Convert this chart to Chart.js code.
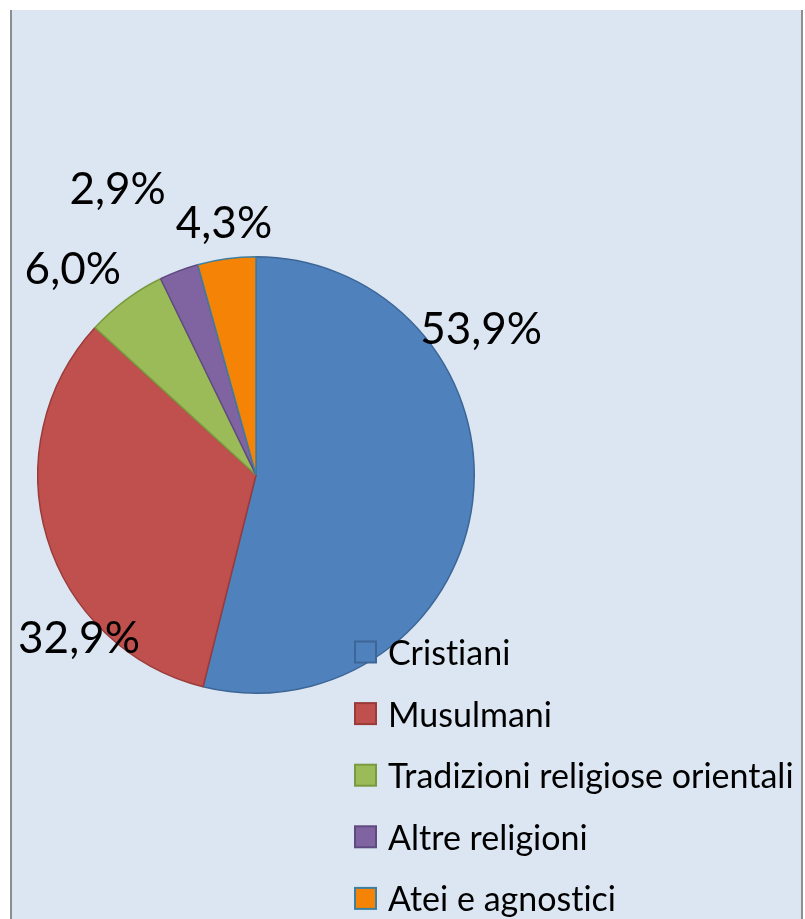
<!DOCTYPE html>
<html>
<head>
<meta charset="utf-8">
<script src="https://cdn.jsdelivr.net/npm/chart.js@4/dist/chart.umd.min.js"></script>
<style>
  html, body { margin: 0; padding: 0; background: #ffffff; }
  #wrap { position: relative; width: 805px; height: 919px; overflow: hidden; }
  #panel {
    position: absolute; left: 10px; top: 10px; width: 789px; height: 909px;
    background: #dce6f2;
    border-left: 2px solid #8e8e8e; border-right: 2px solid #8e8e8e;
  }
  #chart { position: absolute; left: 0; top: 0; }
</style>
</head>
<body>
<div id="wrap">
  <div id="panel"></div>
  <canvas id="chart" width="805" height="919"></canvas>
</div>
<script>
// Religioni nel mondo, quote percentuali
const categories = ['Cristiani', 'Musulmani', 'Tradizioni religiose orientali', 'Altre religioni', 'Atei e agnostici'];
const shares = [53.9, 32.9, 6.0, 2.9, 4.3];

const fillColors = ['#4f81bd', '#c0504d', '#9bbb59', '#8064a2', '#f58305'];
const edgeColors = ['#3c6696', '#9a3b39', '#7a9a40', '#5f4a80', '#3d7fa0'];

// where each percentage label sits: angle from 12 o'clock (deg) and distance in radii
const labelPlacement = [
  [56.8, 1.233],
  [227.5, 1.10],
  [318.5, 1.267],
  [334.3, 1.461],
  [352.8, 1.170]
];

const FONT = 'Lato, "Open Sans", sans-serif';

function pct(v) {
  return v.toFixed(1).replace('.', ',') + '%';
}

// no "ti" ligature in the labels
function plainText(ctx) {
  if ('letterSpacing' in ctx) ctx.letterSpacing = '0.01px';
  if ('textRendering' in ctx) ctx.textRendering = 'optimizeSpeed';
}

const valueLabels = {
  id: 'valueLabels',
  afterDatasetsDraw(chart) {
    const ctx = chart.ctx;
    const arcs = chart.getDatasetMeta(0).data;
    ctx.save();
    ctx.fillStyle = '#000000';
    ctx.font = '44px ' + FONT;
    ctx.textAlign = 'center';
    ctx.textBaseline = 'middle';
    arcs.forEach((arc, i) => {
      const p = arc.getProps(['x', 'y', 'outerRadius'], true);
      const a = labelPlacement[i][0] * Math.PI / 180;
      const r = p.outerRadius * labelPlacement[i][1];
      ctx.fillText(pct(chart.data.datasets[0].data[i]), p.x + Math.sin(a) * r, p.y - Math.cos(a) * r + 2);
    });
    ctx.restore();
  }
};

const sideLegend = {
  id: 'sideLegend',
  afterDraw(chart) {
    const ctx = chart.ctx;
    const ds = chart.data.datasets[0];
    const boxX = 355, firstY = 652, step = 61.6, box = 21;
    ctx.save();
    plainText(ctx);
    ctx.font = '34px ' + FONT;
    ctx.textAlign = 'left';
    ctx.textBaseline = 'middle';
    chart.data.labels.forEach((lab, i) => {
      const cy = firstY + i * step;
      ctx.fillStyle = ds.backgroundColor[i];
      ctx.fillRect(boxX, cy - box / 2, box, box);
      ctx.lineWidth = 2;
      ctx.strokeStyle = ds.borderColor[i];
      ctx.strokeRect(boxX, cy - box / 2, box, box);
      ctx.fillStyle = '#000000';
      ctx.fillText(lab, 388, cy + 2);
    });
    ctx.restore();
  }
};

new Chart(document.getElementById('chart'), {
  type: 'pie',
  data: {
    labels: categories,
    datasets: [{
      data: shares,
      backgroundColor: fillColors,
      borderColor: edgeColors,
      borderWidth: 1.5
    }]
  },
  options: {
    responsive: false,
    animation: false,
    layout: { padding: { left: 37, right: 330, top: 256, bottom: 225 } },
    plugins: {
      legend: { display: false },
      tooltip: { enabled: false }
    }
  },
  plugins: [valueLabels, sideLegend]
});
</script>
</body>
</html>
